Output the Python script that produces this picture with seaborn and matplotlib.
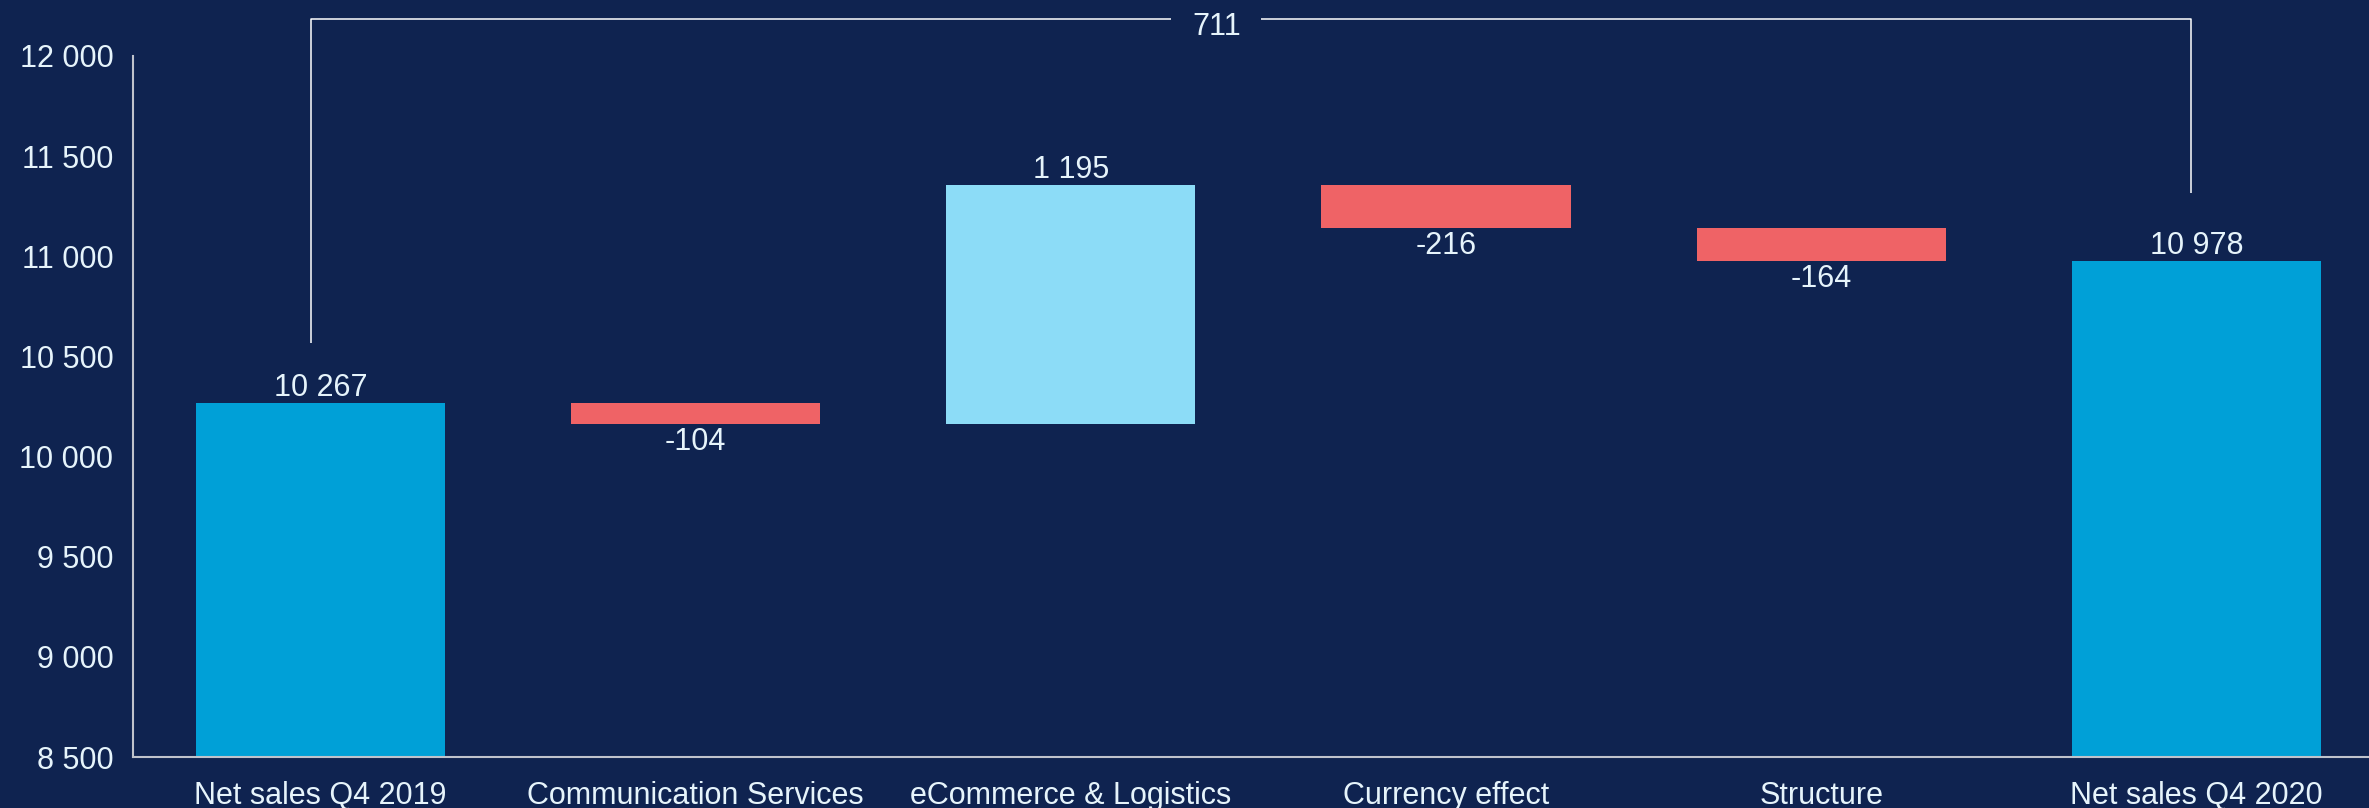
import matplotlib
matplotlib.use("Agg")
import matplotlib.pyplot as plt
import numpy as np
import pandas as pd
import seaborn as sns

# Net sales bridge, Q4 2019 -> Q4 2020
categories = ["Net sales Q4 2019", "Communication Services", "eCommerce & Logistics",
              "Currency effect", "Structure", "Net sales Q4 2020"]
start_total = 10267
changes = [-104, 1195, -216, -164]
end_total = 10978
bridge_total = 711
y_ticks = [8500, 9000, 9500, 10000, 10500, 11000, 11500, 12000]

BG = "#0F2350"
TEXT = "#E6F4FB"
SPINE = "#BFC3CC"
C_TOTAL = "#00A0D7"
C_UP = "#8CDCF7"
C_DOWN = "#EF6366"

# running levels for the floating bars
levels = np.cumsum([start_total] + changes)
tops, bases, colors, labels, above = [], [], [], [], []
tops.append(start_total); bases.append(0); colors.append(C_TOTAL)
labels.append(start_total); above.append(True)
for prev, cur, d in zip(levels[:-1], levels[1:], changes):
    tops.append(max(prev, cur)); bases.append(min(prev, cur))
    colors.append(C_UP if d > 0 else C_DOWN)
    labels.append(d); above.append(d > 0)
tops.append(end_total); bases.append(0); colors.append(C_TOTAL)
labels.append(end_total); above.append(True)

df = pd.DataFrame({"category": categories, "top": tops, "base": bases})


def fmt(v):
    s = f"{abs(int(v)):,}".replace(",", " ")
    return ("-" if v < 0 else "") + s


sns.set_theme(style="white")
plt.rcParams["font.family"] = ["Liberation Sans", "DejaVu Sans"]

fig = plt.figure(figsize=(23.69, 8.08), dpi=100, facecolor=BG)
ax = fig.add_axes([0.0561, 0.0631, 0.9439, 0.8676])
ax.set_facecolor(BG)

sns.barplot(data=df, x="category", y="top", hue="category", palette=colors,
            width=0.664, saturation=1, legend=False, ax=ax, linewidth=0)

patches = sorted(ax.patches, key=lambda p: p.get_x())
for p, top, base in zip(patches, tops, bases):
    p.set_y(base)
    p.set_height(top - base)

# value labels
for i, (top, base, lab, up) in enumerate(zip(tops, bases, labels, above)):
    if up:
        ax.annotate(fmt(lab), (i, top), xytext=(0, 0), textcoords="offset points",
                    ha="center", va="bottom", fontsize=22, color=TEXT)
    else:
        ax.annotate(fmt(lab), (i, base), xytext=(0, -2.5), textcoords="offset points",
                    ha="center", va="top", fontsize=22, color=TEXT)

ax.set_ylim(8500, 12000)
ax.set_xlim(-0.5, 5.46)
ax.set_yticks(y_ticks)
ax.set_yticklabels([fmt(v) for v in y_ticks])
ax.set_xlabel("")
ax.set_ylabel("")
ax.tick_params(axis="both", length=0, labelsize=22, colors=TEXT)
ax.tick_params(axis="y", pad=14)
ax.tick_params(axis="x", pad=17)

for side in ["top", "right"]:
    ax.spines[side].set_visible(False)
for side in ["left", "bottom"]:
    ax.spines[side].set_color(SPINE)
    ax.spines[side].set_linewidth(1.5)
    ax.spines[side].set_zorder(5)

# bracket showing the total change between the two totals
y_top = 12185
lx, rx = -0.024, 4.985
gap_l, gap_r = 2.268, 2.508
line_kw = dict(color="white", lw=1.1, clip_on=False, solid_capstyle="butt")
ax.plot([lx, lx, gap_l], [start_total + 300, y_top, y_top], **line_kw)
ax.plot([gap_r, rx, rx], [y_top, y_top, end_total + 340], **line_kw)
ax.annotate(fmt(bridge_total), ((gap_l + gap_r) / 2, y_top), xytext=(0, -11.5),
            textcoords="offset points", ha="center", va="baseline",
            fontsize=22, color=TEXT, annotation_clip=False)

fig.savefig("out.png", dpi=100, facecolor=BG)
